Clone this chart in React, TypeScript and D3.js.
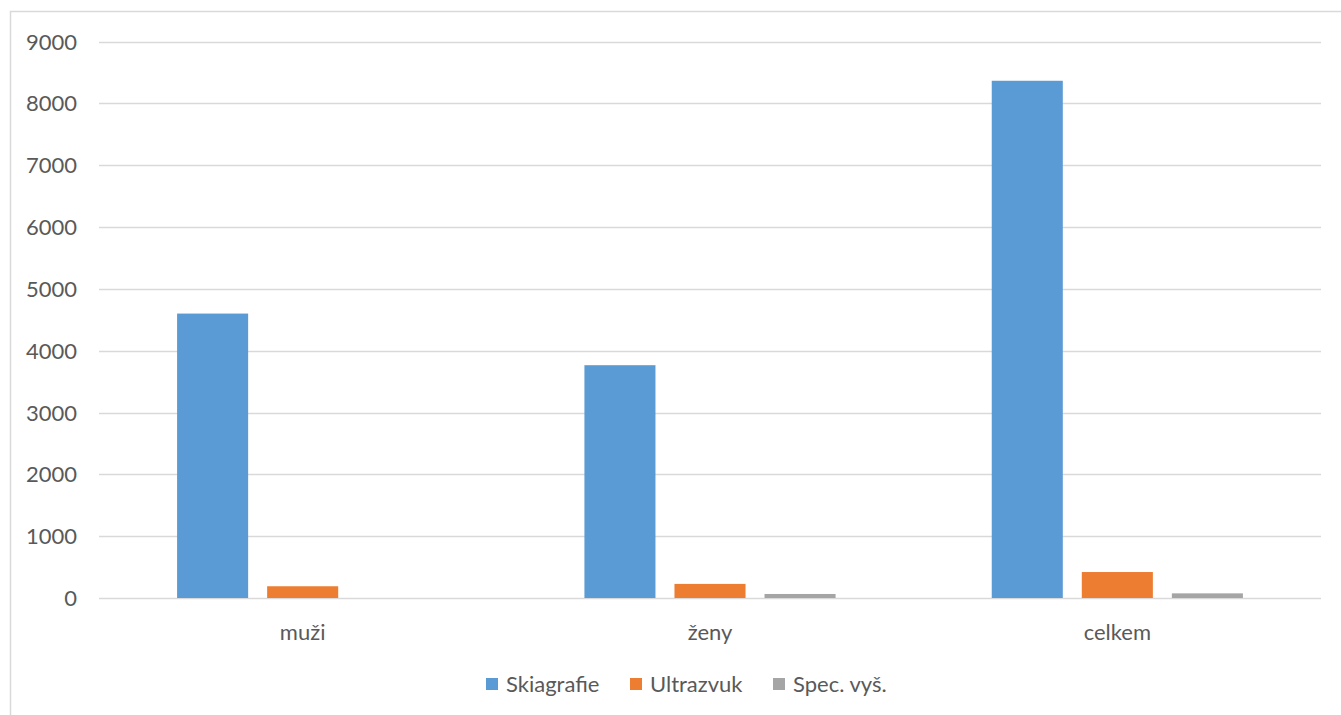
import React from "react";
import * as d3 from "d3";

const categories = ["muži", "ženy", "celkem"];
const seriesNames = ["Skiagrafie", "Ultrazvuk", "Spec. vyš."];
const skiagrafie = [4600, 3765, 8365];
const ultrazvuk = [190, 228, 420];
const specVys = [0, 65, 75];
const yTicks = [0, 1000, 2000, 3000, 4000, 5000, 6000, 7000, 8000, 9000];
const colors = ["#5b9bd5", "#ed7d31", "#a5a5a5"];

const W = 1341;
const H = 715;
const font = "Lato, 'Open Sans', sans-serif";
const fs = 22;

export default function App() {
  const values = [skiagrafie, ultrazvuk, specVys];
  const y = d3.scaleLinear().domain([0, 9000]).range([598, 41.5]);
  const x0 = d3.scaleBand<string>().domain(categories).range([99, 1321]).padding(0);
  const x1 = d3
    .scaleBand<string>()
    .domain(seriesNames)
    .range([0, x0.bandwidth()])
    .paddingInner(0.211)
    .paddingOuter(0.867);

  const legendX = [486, 630, 773];

  return (
    <svg
      width={W}
      height={H}
      style={{ position: "absolute", left: 0, top: 0, background: "#fff" }}
      fontFamily={font}
    >
      <rect x={0} y={0} width={W} height={H} fill="#fff" />
      <rect x={10.5} y={11.5} width={W + 20} height={H + 20} fill="none" stroke="#d9d9d9" strokeWidth={1.5} />
      {yTicks.map((t) => (
        <g key={t}>
          <line x1={99} x2={1321} y1={Math.round(y(t)) + 0.5} y2={Math.round(y(t)) + 0.5} stroke="#d9d9d9" strokeWidth={1.5} />
          <text x={77} y={y(t) + 8} textAnchor="end" fontSize={fs} fill="#595959">
            {t}
          </text>
        </g>
      ))}
      {categories.map((c, ci) => (
        <g key={c} transform={`translate(${x0(c)},0)`}>
          {seriesNames.map((s, si) => {
            const v = values[si][ci];
            if (v <= 0) return null;
            return (
              <rect
                key={s}
                x={x1(s)}
                y={y(v)}
                width={x1.bandwidth()}
                height={y(0) - y(v)}
                fill={colors[si]}
              />
            );
          })}
          <text
            x={x0.bandwidth() / 2}
            y={640}
            textAnchor="middle"
            fontSize={fs}
            fill="#595959"
          >
            {c}
          </text>
        </g>
      ))}
      {seriesNames.map((s, i) => (
        <g key={s}>
          <rect x={legendX[i]} y={678} width={12} height={12} fill={colors[i]} />
          <text x={legendX[i] + 20} y={692} fontSize={fs} fill="#595959">
            {s}
          </text>
        </g>
      ))}
    </svg>
  );
}
